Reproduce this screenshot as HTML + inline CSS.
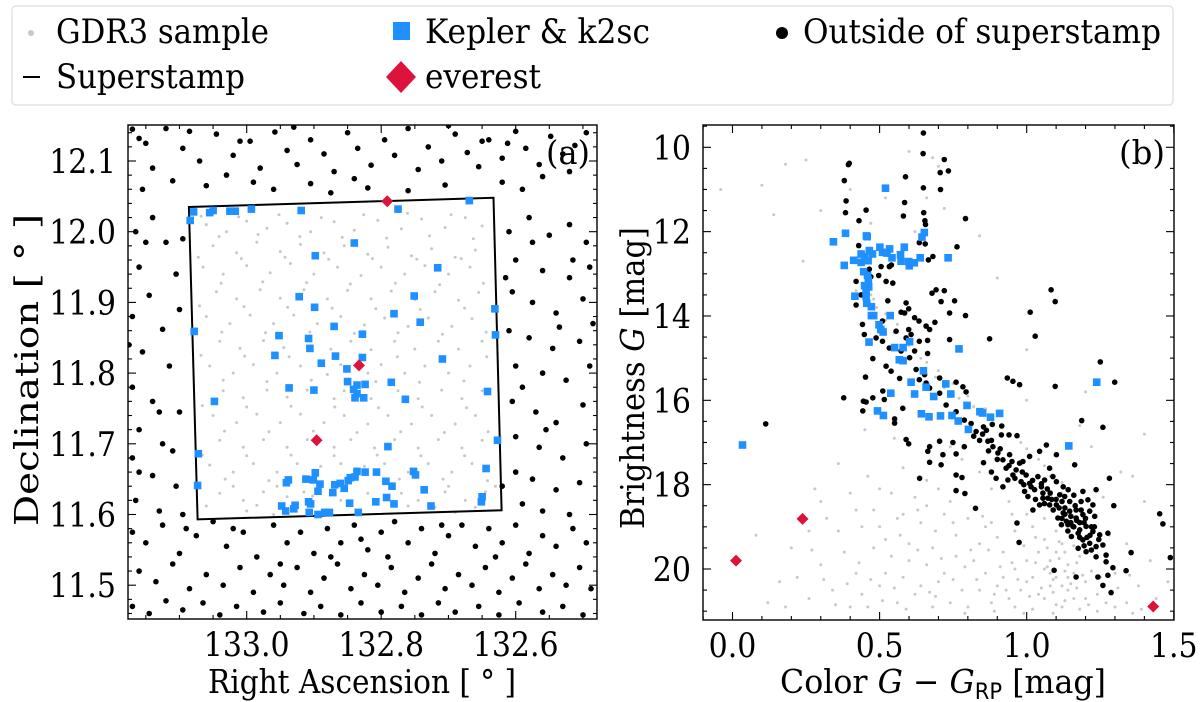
<!DOCTYPE html>
<html><head><meta charset="utf-8">
<style>
html,body{margin:0;padding:0;background:#fff;}
svg{display:block;font-family:"DejaVu Serif","Liberation Serif",serif;}
</style></head>
<body>
<svg id="fig" width="1200" height="702" viewBox="0 0 1200 702">
  <rect x="0" y="0" width="1200" height="702" fill="#fff"/>
  <g>
    <rect x="12" y="6" width="1161" height="99" rx="4" fill="#fff" stroke="#dcdcdc" stroke-width="1.2"/>
    <g>
      <circle cx="31" cy="33" r="3" fill="#c8c8c8"/>
      <text x="56" y="43" font-size="34" textLength="213" lengthAdjust="spacingAndGlyphs" fill="#000">GDR3 sample</text>
    </g>
    <g>
      <line x1="23" y1="77" x2="40" y2="77" stroke="#000" stroke-width="2"/>
      <text x="56" y="88" font-size="34" textLength="189" lengthAdjust="spacingAndGlyphs" fill="#000">Superstamp</text>
    </g>
    <g>
      <rect x="393" y="22" width="17" height="18" fill="#1e90ff"/>
      <text x="425" y="43" font-size="34" textLength="225" lengthAdjust="spacingAndGlyphs" fill="#000">Kepler &amp; k2sc</text>
    </g>
    <g>
      <polygon points="401,61 416,77 401,93 386,77" fill="#dc143c"/>
      <text x="425" y="88" font-size="34" textLength="116" lengthAdjust="spacingAndGlyphs" fill="#000">everest</text>
    </g>
    <g>
      <circle cx="782" cy="33" r="6" fill="#000"/>
      <text x="803" y="43" font-size="34" textLength="358" lengthAdjust="spacingAndGlyphs" fill="#000">Outside of superstamp</text>
    </g>
  </g>
  <g id="panelA"></g>
  <g id="panelB"></g>
</svg>
<script>
// ---------- Panel (a) data ----------
const aStamp = [[133.086,12.035],[132.633,12.048],[132.621,11.606],[133.073,11.593]];
const aKepler = [
[133.079,12.028],[133.055,12.027],[133.050,12.030],[133.025,12.029],[133.017,12.029],[132.993,12.032],[132.919,12.030],[132.775,12.032],[132.669,12.044],[133.084,12.016],
[132.840,11.984],[132.898,11.966],[132.716,11.949],[132.922,11.908],[132.751,11.909],[132.899,11.893],[132.781,11.884],[132.742,11.872],[132.631,11.891],[132.870,11.866],
[132.630,11.854],[133.078,11.859],[132.952,11.853],[132.908,11.849],[132.828,11.855],[132.906,11.835],[132.958,11.825],[132.868,11.824],[132.828,11.822],[132.889,11.814],
[132.709,11.820],[132.851,11.806],[132.850,11.788],[132.836,11.783],[132.824,11.784],[132.841,11.777],[132.836,11.771],[132.839,11.765],[132.826,11.765],[132.785,11.787],
[132.937,11.779],[132.900,11.776],[133.048,11.760],[132.764,11.763],[132.642,11.774],[132.790,11.696],[132.627,11.705],[133.072,11.686],[132.644,11.665],[133.073,11.641],
[132.898,11.659],[132.912,11.650],[132.901,11.649],[132.891,11.643],[132.894,11.633],[132.941,11.645],[132.938,11.649],[132.869,11.642],[132.861,11.644],[132.855,11.637],
[132.849,11.648],[132.846,11.652],[132.839,11.653],[132.836,11.661],[132.824,11.660],[132.807,11.660],[132.793,11.647],[132.784,11.640],[132.752,11.661],[132.749,11.656],
[132.736,11.635],[132.872,11.631],[132.847,11.616],[132.808,11.618],[132.792,11.624],[132.781,11.615],[132.726,11.612],[132.650,11.625],[132.651,11.618],[132.948,11.612],
[132.942,11.605],[132.930,11.608],[132.928,11.613],[132.908,11.618],[132.905,11.615],[132.907,11.603],[132.894,11.600],[132.884,11.603],[132.877,11.603],[132.834,11.603]];
const aEverest = [[132.791,12.043],[132.833,11.811],[132.896,11.705]];
const aOutside = [
[133.170,12.145],[133.160,12.132],[133.150,12.125],[133.120,12.146],[133.095,12.118],[133.070,12.100],[133.045,12.138],[133.020,12.108],[132.995,12.128],[132.980,12.090],
[132.958,12.141],[132.940,12.115],[132.925,12.095],[132.905,12.130],[132.885,12.110],[132.870,12.085],[132.850,12.140],[132.835,12.118],[132.815,12.094],[132.795,12.130],
[132.780,12.108],[132.760,12.146],[132.745,12.088],[132.730,12.120],[132.710,12.100],[132.690,12.138],[132.672,12.112],[132.655,12.092],[132.640,12.130],[132.620,12.104],
[132.600,12.142],[132.585,12.118],[132.565,12.095],[132.548,12.135],[132.530,12.110],[132.512,12.122],[132.495,12.140],[133.140,12.090],[133.110,12.072],[133.060,12.065],
[133.030,12.080],[132.960,12.060],[132.905,12.068],[132.875,12.055],[132.820,12.062],[132.760,12.058],[132.705,12.066],[132.620,12.070],[132.590,12.060],[132.560,12.078],
[133.155,12.060],[133.010,12.128],[132.930,12.148],[132.700,12.150],[132.520,12.085],[132.990,12.070],[132.840,12.075],[132.650,12.128],[133.085,12.142],[132.612,12.125],
[133.165,12.000],[133.140,12.020],[133.120,11.985],[133.160,11.950],[133.105,11.940],[133.145,11.910],[133.170,11.880],[133.125,11.862],[133.100,11.890],[133.155,11.830],
[133.115,11.810],[133.170,11.780],[133.140,11.760],[133.100,11.745],[133.160,11.720],[133.125,11.700],[133.170,11.680],[133.140,11.655],[133.105,11.640],[133.165,11.620],
[133.130,11.605],[133.095,11.600],[133.150,11.985],[133.095,11.990],[133.130,11.745],[133.175,11.840],[133.110,11.690],[133.160,11.660],
[132.610,12.000],[132.580,12.020],[132.550,11.995],[132.520,12.010],[132.495,11.985],[132.600,11.960],[132.560,11.945],[132.520,11.935],[132.490,11.950],[132.605,11.915],
[132.575,11.900],[132.540,11.885],[132.500,11.905],[132.610,11.860],[132.580,11.850],[132.545,11.835],[132.505,11.845],[132.600,11.810],[132.560,11.800],[132.525,11.790],
[132.490,11.810],[132.605,11.760],[132.570,11.745],[132.540,11.730],[132.500,11.755],[132.600,11.710],[132.565,11.695],[132.530,11.680],[132.495,11.700],[132.600,11.660],
[132.575,11.650],[132.540,11.635],[132.505,11.645],[132.590,11.615],[132.560,11.605],[132.520,11.600],[132.615,11.935],[132.590,11.780],[132.515,11.960],[132.555,11.720],
[132.620,11.640],[132.485,11.870],[132.535,11.865],[132.575,11.985],
[133.170,11.575],[133.150,11.560],[133.125,11.585],[133.100,11.545],[133.075,11.570],[133.050,11.590],[133.030,11.555],[133.005,11.575],[132.985,11.540],[132.960,11.585],
[132.940,11.560],[132.920,11.575],[132.900,11.545],[132.880,11.580],[132.860,11.560],[132.840,11.585],[132.820,11.550],[132.800,11.575],[132.780,11.590],[132.760,11.560],
[132.740,11.580],[132.720,11.545],[132.700,11.570],[132.680,11.585],[132.660,11.555],[132.640,11.580],[132.620,11.560],[132.600,11.585],[132.580,11.545],[132.560,11.570],
[132.540,11.555],[132.515,11.580],[132.495,11.560],[133.160,11.520],[133.135,11.505],[133.110,11.530],[133.085,11.495],[133.060,11.515],[133.035,11.500],[133.010,11.525],
[132.990,11.490],[132.965,11.515],[132.945,11.500],[132.925,11.525],[132.905,11.490],[132.885,11.510],[132.865,11.530],[132.845,11.495],[132.825,11.515],[132.805,11.500],
[132.785,11.525],[132.765,11.490],[132.745,11.510],[132.725,11.530],[132.705,11.495],[132.685,11.515],[132.665,11.500],[132.645,11.525],[132.625,11.490],[132.605,11.510],
[132.585,11.530],[132.565,11.495],[132.545,11.515],[132.525,11.500],[132.505,11.525],[132.488,11.495],[133.170,11.470],[133.145,11.460],[133.120,11.478],[133.095,11.465],
[133.065,11.475],[133.040,11.458],[133.015,11.470],[132.975,11.462],[132.950,11.475],[132.915,11.460],[132.890,11.470],[132.860,11.458],[132.830,11.475],[132.800,11.462],
[132.770,11.470],[132.740,11.458],[132.715,11.475],[132.690,11.462],[132.655,11.470],[132.625,11.458],[132.595,11.475],[132.560,11.462],[132.530,11.470],[132.500,11.458],
[133.020,11.580],[132.950,11.530],[132.875,11.540],[132.790,11.540],[132.710,11.585],[132.630,11.540],[133.090,11.580],[132.830,11.565]];
const aGray = [
[133.060,12.010],[133.030,12.000],[133.000,12.015],[132.970,12.005],[132.940,12.012],[132.905,12.000],[132.870,12.014],[132.840,12.002],[132.805,12.016],[132.770,12.004],
[132.740,12.018],[132.705,12.006],[132.675,12.020],[132.650,12.008],[133.050,11.980],[133.015,11.970],[132.985,11.985],[132.950,11.972],[132.920,11.982],[132.885,11.970],
[132.855,11.980],[132.820,11.968],[132.790,11.978],[132.755,11.966],[132.725,11.976],[132.690,11.964],[132.660,11.974],[133.065,11.950],[133.035,11.940],[133.000,11.952],
[132.965,11.942],[132.935,11.955],[132.900,11.940],[132.865,11.950],[132.830,11.938],[132.800,11.950],[132.765,11.940],[132.735,11.952],[132.700,11.940],[132.668,11.950],
[133.045,11.915],[133.015,11.905],[132.980,11.918],[132.950,11.906],[132.915,11.918],[132.880,11.905],[132.850,11.917],[132.815,11.905],[132.785,11.916],[132.750,11.904],
[132.720,11.915],[132.685,11.903],[132.655,11.914],[133.060,11.880],[133.025,11.870],[132.995,11.882],[132.960,11.870],[132.930,11.882],[132.895,11.870],[132.860,11.880],
[132.825,11.868],[132.795,11.878],[132.760,11.866],[132.730,11.878],[132.695,11.866],[132.665,11.877],[133.040,11.845],[133.010,11.835],[132.975,11.846],[132.945,11.836],
[132.910,11.846],[132.875,11.834],[132.845,11.845],[132.815,11.833],[132.780,11.845],[132.750,11.834],[132.715,11.845],[132.685,11.834],[132.650,11.845],[133.055,11.810],
[133.020,11.800],[132.990,11.812],[132.955,11.800],[132.920,11.810],[132.880,11.798],[132.860,11.812],[132.820,11.800],[132.800,11.812],[132.765,11.800],[132.735,11.810],
[132.700,11.800],[132.668,11.810],[133.035,11.775],[133.005,11.765],[132.970,11.776],[132.940,11.766],[132.910,11.776],[132.870,11.764],[132.855,11.775],[132.815,11.764],
[132.775,11.775],[132.745,11.764],[132.710,11.776],[132.680,11.764],[132.650,11.775],[133.050,11.740],[133.015,11.730],[132.985,11.742],[132.950,11.730],[132.920,11.742],
[132.885,11.730],[132.855,11.740],[132.820,11.728],[132.790,11.740],[132.755,11.728],[132.725,11.740],[132.690,11.728],[132.660,11.740],[133.040,11.705],[133.005,11.695],
[132.975,11.706],[132.940,11.695],[132.910,11.706],[132.870,11.695],[132.845,11.706],[132.810,11.694],[132.780,11.706],[132.745,11.694],[132.715,11.706],[132.680,11.694],
[132.650,11.705],[133.055,11.670],[133.020,11.660],[132.990,11.672],[132.955,11.660],[132.925,11.672],[132.890,11.668],[132.860,11.672],[132.825,11.668],[132.795,11.672],
[132.760,11.660],[132.730,11.672],[132.695,11.660],[132.665,11.672],[133.040,11.630],[133.005,11.620],[132.975,11.632],[132.940,11.625],[132.915,11.632],[132.860,11.620],
[132.820,11.630],[132.770,11.630],[132.745,11.620],[132.705,11.632],[132.675,11.620],[132.645,11.632],[133.000,11.605],[132.960,11.600],[132.720,11.610],[132.690,11.603],
[133.068,12.022],[133.041,11.993],[133.012,12.021],[132.983,11.996],[132.952,12.024],[132.921,11.993],[132.889,12.020],[132.858,11.992],[132.826,12.024],[132.792,11.991],
[132.761,12.026],[132.728,11.994],[132.696,12.024],[132.663,11.990],[133.072,11.964],[133.038,11.927],[133.008,11.962],[132.976,11.929],[132.943,11.964],[132.911,11.928],
[132.878,11.961],[132.846,11.926],[132.813,11.962],[132.779,11.927],[132.747,11.961],[132.713,11.925],[132.681,11.962],[132.648,11.927],[133.070,11.895],[133.037,11.858],
[133.004,11.894],[132.972,11.857],[132.939,11.893],[132.906,11.858],[132.873,11.892],[132.840,11.856],[132.808,11.891],[132.775,11.857],[132.742,11.890],[132.709,11.855],
[132.676,11.892],[132.644,11.858],[133.068,11.825],[133.035,11.790],[133.003,11.824],[132.970,11.788],[132.937,11.823],[132.904,11.790],[132.872,11.822],[132.808,11.788],
[132.776,11.823],[132.743,11.787],[132.710,11.822],[132.677,11.789],[132.643,11.823],[133.066,11.754],[133.033,11.718],[133.000,11.752],[132.967,11.717],[132.934,11.753],
[132.901,11.718],[132.869,11.752],[132.836,11.716],[132.804,11.751],[132.771,11.717],[132.739,11.752],[132.706,11.716],[132.673,11.751],[132.641,11.717],[133.066,11.684],
[133.032,11.650],[133.000,11.683],[132.967,11.648],[132.934,11.684],[132.902,11.626],[132.870,11.683],[132.806,11.684],[132.773,11.650],[132.741,11.683],[132.708,11.650],
[132.676,11.683],[132.642,11.648],[133.060,11.612],[133.020,11.640],[132.985,11.613],[132.955,11.640],[132.760,11.612],[132.700,11.640],[132.660,11.610],[132.630,11.640]];

// ---------- Panel (b) data ----------
const bKepler = [
[0.520,10.97],[0.343,12.24],[0.384,12.04],[0.380,12.80],[0.412,12.68],[0.455,12.10],[0.458,12.12],[0.437,12.53],[0.449,12.59],[0.465,12.45],
[0.476,12.53],[0.461,12.69],[0.437,12.73],[0.501,12.37],[0.510,12.49],[0.525,12.51],[0.534,12.41],[0.542,12.62],[0.571,12.55],[0.573,12.70],
[0.584,12.37],[0.599,12.71],[0.601,12.81],[0.618,12.74],[0.638,12.62],[0.644,12.13],[0.652,12.02],[0.733,12.62],[0.446,12.95],[0.459,13.04],
[0.462,13.15],[0.449,13.28],[0.463,13.31],[0.454,13.42],[0.454,13.54],[0.416,13.53],[0.456,13.70],[0.472,13.78],[0.472,13.99],[0.480,13.99],
[0.536,13.99],[0.498,14.21],[0.504,14.32],[0.512,14.38],[0.464,14.62],[0.551,14.75],[0.580,14.75],[0.602,14.61],[0.567,15.04],[0.580,15.06],
[0.649,15.30],[0.770,14.78],[0.607,15.57],[0.658,15.69],[0.725,15.61],[0.619,15.85],[0.684,15.91],[0.742,15.85],[0.538,15.83],[0.493,16.25],
[0.513,16.36],[0.642,16.32],[0.668,16.39],[0.707,16.37],[0.746,16.36],[0.767,16.49],[0.797,16.12],[0.802,16.69],[0.841,16.27],[0.850,16.30],
[0.877,16.40],[0.908,16.31],[1.238,15.57],[1.143,17.08],[0.034,17.06]];
const bEverest = [[0.238,18.81],[0.012,19.80],[1.430,20.89]];
const bOutside = [
[0.649,9.66],[0.648,10.15],[0.720,10.29],[0.734,10.56],[0.706,10.60],[0.588,10.70],[0.394,10.41],[0.397,10.38],[0.380,10.79],[0.649,10.96],
[0.707,11.00],[0.386,11.27],[0.585,11.31],[0.384,11.55],[0.454,11.49],[0.581,11.63],[0.650,11.55],[0.654,11.74],[0.430,11.74],[0.656,11.83],
[0.792,11.69],[0.635,12.26],[0.655,12.29],[0.763,12.36],[0.429,12.33],[0.582,12.40],[0.681,12.59],[0.666,12.67],[0.533,12.83],[0.505,12.83],
[0.540,12.79],[0.465,12.89],[0.497,13.04],[0.522,13.18],[0.545,13.22],[0.692,13.38],[0.720,13.40],[0.678,13.46],[0.709,13.66],[0.755,13.64],
[0.528,13.64],[0.437,13.50],[0.420,13.74],[0.590,13.69],[0.599,13.83],[0.573,13.91],[0.585,13.93],[0.738,13.93],[0.792,13.99],[0.619,14.04],
[0.634,14.12],[0.688,14.15],[0.658,14.24],[0.670,14.32],[0.599,14.32],[0.607,14.44],[0.590,14.52],[0.635,14.60],[0.663,14.58],[0.448,14.44],
[0.442,14.20],[0.488,14.52],[0.510,14.60],[0.533,14.76],[0.738,14.56],[0.874,14.54],[0.619,14.83],[0.663,14.89],[0.477,15.01],[0.522,15.19],
[0.539,15.31],[0.452,15.45],[0.568,15.48],[0.635,15.51],[0.704,15.47],[0.658,15.59],[0.783,15.68],[0.794,15.80],[0.760,15.57],[0.934,15.47],
[0.953,15.55],[0.976,15.63],[1.097,15.67],[0.378,15.94],[0.445,16.02],[0.454,16.04],[0.477,15.94],[0.511,15.78],[0.516,15.98],[0.579,16.19],
[0.551,16.44],[0.551,16.54],[0.443,16.25],[0.590,16.93],[0.599,17.03],[0.704,16.97],[0.749,17.00],[0.670,17.10],[0.664,17.21],[0.715,17.29],
[0.760,17.27],[0.788,17.10],[0.670,17.47],[0.709,17.53],[0.636,17.85],[0.760,17.77],[0.780,17.83],[0.760,18.14],[0.790,18.21],[0.826,18.56],
[0.853,17.48],[0.880,17.70],[0.853,16.63],[0.863,16.71],[0.883,16.57],[0.915,16.61],[0.940,16.82],[0.967,16.84],[0.914,16.82],[0.868,16.97],
[0.885,17.10],[0.902,17.25],[0.919,17.41],[0.942,17.29],[0.976,17.49],[0.987,17.45],[1.010,17.33],[1.044,17.21],[1.067,17.06],[1.101,17.29],
[0.930,17.61],[0.953,17.77],[0.964,17.65],[0.998,17.77],[0.981,17.93],[1.010,17.97],[1.038,17.81],[1.061,17.89],[1.078,17.61],[1.089,17.81],
[0.993,18.16],[1.027,18.12],[1.055,18.20],[1.072,18.32],[1.101,17.93],[1.124,18.05],[1.141,18.12],[1.112,18.24],[1.146,18.40],[1.168,18.60],
[1.191,18.16],[1.236,18.12],[1.163,17.53],[1.187,16.48],[1.259,16.64],[1.250,15.09],[1.299,15.57],[1.083,13.38],[1.097,13.66],[1.012,13.91],
[1.029,14.48],[1.281,17.85],[1.296,18.50],[1.101,18.48],[1.124,18.67],[1.146,18.63],[1.168,18.79],[1.191,18.71],[1.214,18.63],[1.231,18.75],
[1.135,18.87],[1.157,18.99],[1.180,19.07],[1.202,18.99],[1.225,19.11],[1.248,19.19],[1.276,19.15],[1.191,19.31],[1.214,19.39],[1.236,19.47],
[1.259,19.43],[1.106,18.79],[1.118,18.95],[1.152,19.23],[1.175,19.51],[1.202,19.59],[1.236,19.71],[1.270,19.67],[1.270,19.83],[1.293,19.97],
[1.276,20.15],[1.242,20.19],[1.168,20.19],[1.093,20.03],[1.338,20.04],[1.355,19.61],[1.452,18.69],[1.463,18.93],[1.488,19.73],[1.287,20.56],
[1.259,20.39],[0.967,18.91],[0.974,19.37],[0.113,16.56],[1.044,18.48],[1.021,18.60],[1.004,18.28],[1.055,18.32],[1.078,18.48],[0.919,18.05],
[0.896,17.85],[0.936,17.89],[1.185,18.40],[1.208,18.36],[1.225,18.48],[1.129,18.28],[0.420,13.18],[0.470,13.07],[0.510,14.12],[0.556,14.36],
[0.573,14.83],[0.602,14.99],[0.624,15.27],[0.653,15.39],[0.670,15.71],[0.704,15.83],[0.726,16.11],[0.760,16.27],[0.788,16.47],[0.811,16.55],
[0.828,16.74],[1.150,18.90],[1.170,18.85],[1.195,18.90],[1.130,18.70],[1.160,19.00],[1.205,19.25],[1.140,19.10],[1.090,18.60],[1.060,18.45],
[1.030,18.35],[0.990,18.00],[0.960,17.85],[1.070,18.10],[1.110,18.55],[1.180,18.90],[1.220,19.00],[1.245,19.30],[1.220,19.55],[1.180,19.25],
[0.900,17.40],[0.870,17.20],[0.840,16.95],[0.820,16.85],[0.940,17.55],[1.015,18.05],[1.050,17.98],[1.085,18.35],[1.120,18.40],[1.160,18.25],
[1.120,18.80],[1.140,18.95],[1.165,18.50],[1.185,18.60],[1.200,18.80],[1.215,19.20],[1.175,19.15],[1.150,18.75],[1.100,18.35],[1.130,18.55],
[1.080,18.20],[1.050,18.05],[1.020,17.90],[0.985,17.70],[0.950,17.45],[0.910,17.15],[0.880,16.95],[0.850,16.80],[1.195,19.45],[1.230,19.00]];
const bGray = [
[0.60,10.10],[0.25,10.30],[0.10,10.90],[0.52,11.20],[0.30,11.50],[0.72,11.45],[0.47,11.80],[0.62,12.00],[0.24,12.70],[0.90,13.10],
[0.42,13.40],[0.48,13.60],[0.52,14.10],[0.55,14.40],[0.60,14.70],[0.64,15.00],[0.70,15.30],[0.75,15.60],[0.80,15.90],[0.86,16.20],
[0.92,16.60],[0.98,17.00],[1.04,17.40],[1.08,17.80],[1.12,18.20],[1.02,19.00],[1.06,19.30],[1.10,19.60],[1.14,19.90],[1.08,20.10],
[1.12,20.40],[1.16,20.70],[1.04,20.60],[1.00,20.30],[0.96,20.00],[1.20,20.30],[1.24,20.60],[1.18,20.95],[1.10,20.85],[1.02,20.95],
[0.94,20.70],[0.90,20.40],[0.86,20.10],[0.82,19.80],[0.78,20.50],[0.74,20.80],[0.70,20.30],[0.66,19.90],[0.62,20.60],[0.58,20.20],
[0.54,19.70],[0.50,20.40],[0.46,20.90],[0.42,20.10],[0.38,19.60],[0.34,20.50],[0.30,19.90],[0.26,20.70],[0.22,20.20],[0.18,20.90],
[0.44,19.00],[0.48,18.60],[0.52,19.30],[0.56,18.80],[0.60,19.40],[0.64,18.90],[0.68,19.50],[0.72,18.70],[0.76,19.20],[0.80,18.80],
[0.84,19.40],[0.88,18.90],[0.92,19.60],[0.96,19.10],[0.40,18.20],[0.46,17.80],[0.50,18.10],[0.58,17.60],[0.62,18.30],[0.66,17.90],
[0.36,17.50],[0.30,18.40],[0.26,19.10],[0.20,19.50],[0.16,20.30],[0.12,20.80],[0.08,19.20],[1.30,20.10],[1.34,20.80],[1.38,20.40],
[1.28,19.20],[1.26,18.30],[1.32,17.70],[1.40,16.80],[1.22,17.10],[1.18,16.60],[1.00,16.00],[0.70,17.00],[0.55,16.90],[0.45,16.70],
[1.06,20.00],[1.08,19.80],[1.10,20.20],[1.12,19.40],[1.14,20.50],[1.16,20.10],[1.18,19.70],[1.04,19.60],[1.00,19.80],[0.98,20.50],
[1.02,20.20],[1.06,20.70],[1.08,20.40],[1.12,20.90],[1.14,20.20],[1.20,20.70],[1.22,20.05],[1.16,19.45],[1.10,19.10],[1.06,18.80],
[1.00,18.70],[0.94,18.40],[0.88,18.10],[0.84,17.70],[0.78,17.40],[0.74,17.10],[0.96,20.90],[0.92,20.20],[0.88,20.80],[0.84,20.50],
[0.80,20.90],[0.76,19.70],[0.72,20.10],[0.68,20.90],[0.64,20.40],[0.60,19.80],[0.56,20.80],[0.52,20.10],[0.48,19.50],[0.44,20.60],
[0.40,20.90],[0.36,19.10],[0.32,18.80],[0.28,18.10],[0.70,18.10],[0.74,18.40],[0.66,18.50],[0.58,18.70],[0.54,18.20],[0.86,19.00],
[1.24,21.00],[1.30,20.90],[1.36,21.05],[1.44,20.70],[1.48,20.30],[1.42,19.80],[1.34,19.40],[1.46,18.90],[1.40,18.40],[1.36,17.80],
[0.43,12.60],[0.44,13.00],[0.46,13.20],[0.47,13.50],[0.49,13.80],[0.52,13.95],[0.56,14.20],[0.59,14.50],[0.62,14.80],[0.66,15.10],
[0.69,15.45],[0.72,15.70],[0.77,15.95],[0.82,16.15],[0.88,16.45],[0.94,16.80],[1.00,17.15],[1.06,17.55],[1.12,17.95],[1.15,18.60],
[0.68,10.25],[0.70,10.45],[0.66,11.20],[0.40,11.00],[0.18,10.40],[0.14,11.60],[-0.04,11.00],[0.84,12.10],[1.00,14.80],[1.20,15.80],
[1.07,19.95],[1.09,20.25],[1.11,19.75],[1.13,20.05],[1.15,20.35],[1.17,19.85],[1.19,20.15],[1.05,20.45],[1.03,19.85],[1.01,20.65],
[1.09,20.55],[1.13,20.75],[1.17,20.45],[1.21,20.85],[1.11,19.35],[1.13,19.60],[1.07,19.50],[1.03,19.25],[0.99,19.45],[0.97,20.25],
[0.93,20.50],[0.89,20.60],[0.95,19.85],[0.91,19.95],[0.87,19.55],[0.83,20.25],[0.79,19.95],[0.75,20.25],[0.71,19.75],[0.67,20.55],
[0.63,19.55],[0.59,20.95],[0.55,20.45],[0.51,20.75],[0.47,20.25],[0.43,19.85],[0.39,20.35],[0.35,20.85],[0.31,20.25],[0.27,19.55],
[1.25,20.20],[1.27,20.80],[1.31,20.45],[1.35,20.15],[1.39,20.95],[1.09,21.05],[0.99,21.05],[0.89,21.00],[0.79,21.05],[0.69,20.65],
[0.50,19.00],[0.57,19.20],[0.63,18.60],[0.69,19.10],[0.75,18.90],[0.81,19.55],[0.85,18.75],[0.90,19.25],[0.95,18.70],[0.42,18.60]];

// ---------- helpers ----------
const NS='http://www.w3.org/2000/svg';
function mk(tag, attrs, parent){const e=document.createElementNS(NS,tag);for(const k in attrs)e.setAttribute(k,attrs[k]);parent.appendChild(e);return e;}
function numWidth(s){let w=0;for(const ch of s)w+=(ch==='.')?9.5:19.1;return w;}

const A={l:128,r:597,t:125,b:619};
function axA(ra){return 246.7+(133.0-ra)*672.5;}
function ayA(dec){return 231.7+(12.0-dec)*707;}
const aXTicks=[133.0,132.8,132.6];
const aXTickLabels=['133.0','132.8','132.6'];
const aYTicks=[12.1,12.0,11.9,11.8,11.7,11.6,11.5];
const aYTickLabels=['12.1','12.0','11.9','11.8','11.7','11.6','11.5'];

const B={l:703,r:1174,t:125,b:620};
function bx(c){return 732.5+c*294.2;}
function by(g){return 147.3+(g-10)*42.17;}
const bXTicks=[0.0,0.5,1.0,1.5];
const bXTickLabels=['0.0','0.5','1.0','1.5'];
const bYTicks=[10,12,14,16,18,20];
const bYTickLabels=['10','12','14','16','18','20'];

function drawPanel(g, box, fx, fy, gray, outside, kep, ever, stamp, xt, xtl, yt, ytl, xminor, yminor, tag){
  const clipId='clip'+tag;
  const defs=mk('defs',{},g);
  const cp=mk('clipPath',{id:clipId},defs);
  mk('rect',{x:box.l,y:box.t,width:box.r-box.l,height:box.b-box.t},cp);
  const plot=mk('g',{'clip-path':'url(#'+clipId+')'},g);
  
  
  const gg=mk('g',{fill:'#c8c8c8'},plot);
  
  
  gray.forEach(p=>{mk('circle',{cx:fx(p[0]).toFixed(1),cy:fy(p[1]).toFixed(1),r:1.5},gg);});
  if(stamp){
    const pts=stamp.map(p=>fx(p[0]).toFixed(1)+','+fy(p[1]).toFixed(1)).join(' ');
    const poly=mk('polygon',{points:pts,fill:'none',stroke:'#000','stroke-width':2},plot);
    
    
  }
  const go=mk('g',{fill:'#000'},plot);
  
  
  outside.forEach(p=>{mk('circle',{cx:fx(p[0]).toFixed(1),cy:fy(p[1]).toFixed(1),r:2.8},go);});
  const gk=mk('g',{fill:'#1e90ff'},plot);
  
  
  kep.forEach(p=>{const x=fx(p[0]),y=fy(p[1]);mk('rect',{x:(x-3.8).toFixed(1),y:(y-3.8).toFixed(1),width:7.6,height:7.6},gk);});
  const ge=mk('g',{fill:'#dc143c'},plot);
  
  
  ever.forEach(p=>{const x=fx(p[0]),y=fy(p[1]);mk('polygon',{points:`${x},${y-6} ${x+6},${y} ${x},${y+6} ${x-6},${y}`},ge);});
  const fr=mk('rect',{x:box.l,y:box.t,width:box.r-box.l,height:box.b-box.t,fill:'none',stroke:'#000','stroke-width':1.4},g);
  
  
  const tk=mk('g',{stroke:'#000','stroke-width':1.1},g);
  
  
  xminor.forEach(v=>{const x=fx(v);if(x<box.l||x>box.r)return;mk('line',{x1:x,y1:box.b,x2:x,y2:box.b-4},tk);mk('line',{x1:x,y1:box.t,x2:x,y2:box.t+4},tk);});
  yminor.forEach(v=>{const y=fy(v);if(y<box.t||y>box.b)return;mk('line',{x1:box.l,y1:y,x2:box.l+4,y2:y},tk);mk('line',{x1:box.r,y1:y,x2:box.r-4,y2:y},tk);});
  xt.forEach((v,i)=>{const x=fx(v);mk('line',{x1:x,y1:box.b,x2:x,y2:box.b-8},tk);mk('line',{x1:x,y1:box.t,x2:x,y2:box.t+8},tk);
    const t=mk('text',{x:x,y:box.b+37,'font-size':34,'text-anchor':'middle',fill:'#000',stroke:'none',textLength:numWidth(xtl[i]),lengthAdjust:'spacingAndGlyphs'},g);t.textContent=xtl[i];
    
    });
  yt.forEach((v,i)=>{const y=fy(v);mk('line',{x1:box.l,y1:y,x2:box.l+8,y2:y},tk);mk('line',{x1:box.r,y1:y,x2:box.r-8,y2:y},tk);
    const w=numWidth(ytl[i]);
    const t=mk('text',{x:box.l-12-w,y:y+12,'font-size':34,'text-anchor':'start',fill:'#000',stroke:'none',textLength:w,lengthAdjust:'spacingAndGlyphs'},g);t.textContent=ytl[i];
    
    });
}

const aXMinor=[133.15,133.10,133.05,132.95,132.90,132.85,132.75,132.70,132.65,132.55,132.50];
const aYMinor=[12.14,12.12,12.08,12.06,12.04,12.02,11.98,11.96,11.94,11.92,11.88,11.86,11.84,11.82,11.78,11.76,11.74,11.72,11.68,11.66,11.64,11.62,11.58,11.56,11.54,11.52,11.48,11.46];
const bXMinor=[-0.1,0.1,0.2,0.3,0.4,0.6,0.7,0.8,0.9,1.1,1.2,1.3,1.4];
const bYMinor=[9.5,10.5,11,11.5,12.5,13,13.5,14.5,15,15.5,16.5,17,17.5,18.5,19,19.5,20.5,21];

const pa=document.getElementById('panelA');
drawPanel(pa,A,axA,ayA,aGray,aOutside,aKepler,aEverest,aStamp,aXTicks,aXTickLabels,aYTicks,aYTickLabels,aXMinor,aYMinor,'a');
const pb=document.getElementById('panelB');
drawPanel(pb,B,bx,by,bGray,bOutside,bKepler,bEverest,null,bXTicks,bXTickLabels,bYTicks,bYTickLabels,bXMinor,bYMinor,'b');

function label(parent,txtHTML,attrs,name){const t=mk('text',attrs,parent);t.innerHTML=txtHTML;return t;}
label(pa,'(a)',{x:546,y:164,'font-size':33,textLength:44,lengthAdjust:'spacingAndGlyphs'},'panel-a-label');
label(pb,'(b)',{x:1119,y:164,'font-size':33,textLength:46,lengthAdjust:'spacingAndGlyphs'},'panel-b-label');
label(pa,'Right Ascension [ ° ]',{x:208,y:693,'font-size':33,textLength:308,lengthAdjust:'spacingAndGlyphs'},'x-axis-title-a');
label(pa,'Declination [ ° ]',{x:0,y:0,'font-size':33,textLength:312,lengthAdjust:'spacingAndGlyphs',transform:'translate(38,526) rotate(-90)'},'y-axis-title-a');
label(pb,'Color <tspan font-style="italic">G</tspan> − <tspan font-style="italic">G</tspan><tspan font-size="22" dy="6" font-family="DejaVu Sans, Liberation Sans, sans-serif">RP</tspan><tspan dy="-6"> [mag]</tspan>',{x:780,y:693,'font-size':33,textLength:326,lengthAdjust:'spacingAndGlyphs'},'x-axis-title-b');
label(pb,'Brightness <tspan font-style="italic">G</tspan> [mag]',{x:0,y:0,'font-size':33,textLength:302,lengthAdjust:'spacingAndGlyphs',transform:'translate(644,529) rotate(-90)'},'y-axis-title-b');
</script>
</body></html>
